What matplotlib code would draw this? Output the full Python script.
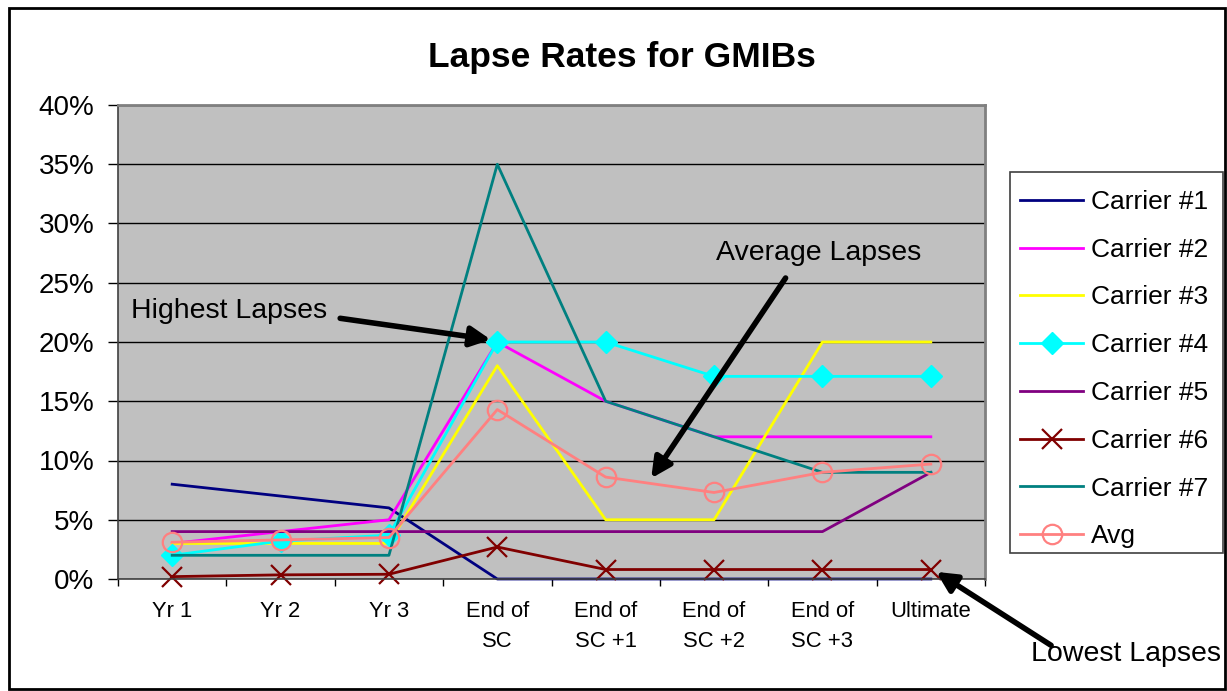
import matplotlib

matplotlib.use("Agg")
import matplotlib.pyplot as plt
from matplotlib.patches import Rectangle
from matplotlib.ticker import FixedLocator, MultipleLocator, PercentFormatter

plt.rcParams["font.family"] = ["Liberation Sans", "DejaVu Sans"]

categories = ["Yr 1", "Yr 2", "Yr 3", "End of\nSC", "End of\nSC +1",
              "End of\nSC +2", "End of\nSC +3", "Ultimate"]
carrier1 = [8, 7, 6, 0, 0, 0, 0, 0]
carrier2 = [3, 4, 5, 20, 15, 12, 12, 12]
carrier3 = [3, 3, 3, 18, 5, 5, 20, 20]
carrier4 = [2, 3.2, 3.7, 20, 20, 17.1, 17.1, 17.1]
carrier5 = [4, 4, 4, 4, 4, 4, 4, 9]
carrier6 = [0.2, 0.35, 0.4, 2.7, 0.8, 0.8, 0.8, 0.8]
carrier7 = [2, 2, 2, 35, 15, 12, 9, 9]
avg = [3.1, 3.3, 3.5, 14.3, 8.6, 7.3, 9.0, 9.7]

series = [
    ("Carrier #1", carrier1, "#000080", dict()),
    ("Carrier #2", carrier2, "#FF00FF", dict()),
    ("Carrier #3", carrier3, "#FFFF00", dict()),
    ("Carrier #4", carrier4, "#00FFFF", dict(marker="D", markersize=11)),
    ("Carrier #5", carrier5, "#800080", dict()),
    ("Carrier #6", carrier6, "#800000", dict(marker="x", markersize=15, markeredgewidth=1.6)),
    ("Carrier #7", carrier7, "#008080", dict()),
    ("Avg", avg, "#FF8080", dict(marker="o", markersize=14, markerfacecolor="none",
                                 markeredgewidth=1.6)),
]

W, H = 1227, 691
fig = plt.figure(figsize=(W / 100, H / 100), dpi=100)
ax = fig.add_axes([118 / W, 1 - 579 / H, (985 - 118) / W, (579 - 105) / H])
ax.set_facecolor("#C0C0C0")

x = list(range(len(categories)))
handles = []
for label, vals, color, style in series:
    (ln,) = ax.plot(x, vals, color=color, lw=2, label=label, clip_on=False, **style)
    handles.append(ln)

ax.set_xlim(-0.5, len(categories) - 0.5)
ax.set_ylim(0, 40)
ax.yaxis.set_major_locator(MultipleLocator(5))
ax.yaxis.set_major_formatter(PercentFormatter(xmax=100, decimals=0))
ax.grid(axis="y", color="black", lw=1)
ax.set_axisbelow(True)

ax.set_xticks(x)
ax.set_xticklabels(categories, fontsize=15.8, linespacing=1.55, va="top")
ax.xaxis.set_minor_locator(FixedLocator([i + 0.5 for i in range(-1, len(categories))]))
ax.tick_params(axis="x", which="major", length=0, pad=16)
ax.tick_params(axis="x", which="minor", length=5, width=1, direction="out")
ax.tick_params(axis="y", labelsize=20, length=7, width=1, direction="out", pad=10)

for side in ("top", "right"):
    ax.spines[side].set_color("#808080")
    ax.spines[side].set_linewidth(2)
for side in ("left", "bottom"):
    ax.spines[side].set_color("#404040")
    ax.spines[side].set_linewidth(1.2)

fig.text(622 / W, 1 - 57 / H, "Lapse Rates for GMIBs", ha="center", va="center",
         fontsize=25.5, fontweight="bold")

arrow = dict(arrowstyle="-|>,head_length=0.6,head_width=0.3", color="black", lw=4,
             mutation_scale=20, shrinkA=0, shrinkB=0)
ax.annotate("", xy=(2.94, 20.2), xytext=(1.55, 22.0), arrowprops=arrow, annotation_clip=False)
ax.annotate("", xy=(4.42, 8.5), xytext=(5.66, 25.4), arrowprops=arrow, annotation_clip=False)
ax.annotate("", xy=(7.05, 0.6), xytext=(8.11, -5.6), arrowprops=arrow, annotation_clip=False)
ax.text(-0.38, 22.6, "Highest Lapses", fontsize=20.5, ha="left", va="center")
ax.text(5.02, 27.5, "Average Lapses", fontsize=20.5, ha="left", va="center")
ax.text(7.92, -6.33, "Lowest Lapses", fontsize=20.5, ha="left", va="center", clip_on=False)

# legend box drawn by hand so its size matches the Excel one
fig.patches.append(Rectangle((1010 / W, 1 - 553 / H), (1223 - 1010) / W, (553 - 172) / H,
                             transform=fig.transFigure, facecolor="white",
                             edgecolor="#404040", lw=1.2))
fig.legend(handles=handles, loc="upper left", bbox_to_anchor=(1020 / W, 1 - 190 / H),
           bbox_transform=fig.transFigure, fontsize=19, frameon=False,
           borderaxespad=0, borderpad=0, labelspacing=0.9, handlelength=2.4,
           handletextpad=0.3)

fig.patches.append(Rectangle((9 / W, 2 / H), (1225 - 9) / W, (689 - 8) / H,
                             transform=fig.transFigure, fill=False, edgecolor="black", lw=2))

fig.savefig("out.png", dpi=100)
